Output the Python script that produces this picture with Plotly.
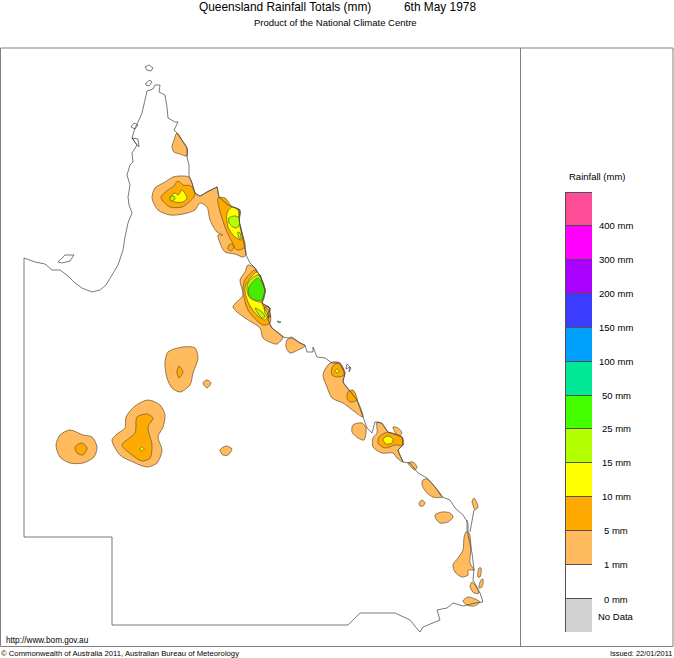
import plotly.graph_objects as go

state_outline = [
    (348, 625), (112, 625), (112, 537), (24, 537), (24, 258),
    (35, 262), (45, 264), (52, 270), (60, 270), (68, 276), (75, 283), (82, 288), (92, 292),
    (100, 290), (106, 285), (112, 275), (118, 265), (123, 250), (125, 237), (128, 223),
    (132, 213), (129, 205), (128, 197), (130, 185), (127, 175), (130, 165), (133, 162), (132, 153),
    (137, 145), (132, 138), (135, 128), (139, 120), (142, 113), (145, 100), (147, 91), (153, 89),
    (155, 85), (160, 85), (159, 92), (165, 95), (167, 107), (168, 118), (175, 122),
    (178, 122), (174, 130), (177, 133), (182, 140), (187, 148), (187, 157), (189, 165),
    (189, 176), (192, 183), (195, 193), (200, 196), (207, 192), (215, 188), (217, 187),
    (219, 197), (228, 205), (240, 210), (239, 220), (242, 233), (245, 247), (246, 255),
    (250, 263), (255, 268), (258, 273), (260, 275), (265, 290), (262, 303), (270, 308),
    (268, 320), (272, 328), (283, 337), (288, 338), (292, 337), (300, 343), (305, 345),
    (307, 352), (313, 352), (313, 347), (317, 357), (325, 358), (332, 363), (340, 363), (345, 373),
    (343, 382), (357, 400), (363, 417), (367, 428), (372, 433), (375, 422), (382, 423),
    (388, 432), (402, 437), (403, 445), (398, 450), (403, 462), (410, 463), (418, 473),
    (427, 478), (435, 487), (442, 497), (450, 500), (455, 508), (463, 515), (468, 523),
    (468, 535), (472, 553), (474, 570), (473, 580), (480, 593), (483, 602), (475, 603),
    (463, 606), (453, 603), (447, 608), (437, 610), (440, 620), (433, 623), (423, 627),
    (420, 632), (418, 630), (410, 620), (395, 613), (380, 613), (360, 613), (348, 625),
]
islands = [
    [(145, 67), (149, 65), (153, 68), (151, 71), (147, 70), (145, 67)],
    [(146, 83), (150, 80), (152, 82), (149, 86), (146, 85), (146, 83)],
    [(58, 262), (65, 255), (74, 255), (70, 261), (62, 263), (58, 262)],
    [(131, 127), (134, 123), (138, 125), (135, 129), (131, 127)],
    [(132, 138), (138, 139), (139, 147), (137, 145), (132, 138)],
    [(277, 321), (281, 322), (279, 323), (277, 321)],
    [(346, 369), (350, 367), (349, 372), (351, 368), (347, 364), (346, 369)],
    [(264, 308), (268, 306), (270, 310), (267, 314), (271, 316), (268, 318), (265, 313), (264, 308)],
    [(474, 510), (470, 532)],
    [(467, 520), (467, 532)],
]
rain_1mm = [
    [(177, 133), (182, 140), (187, 148), (187, 156), (180, 154), (174, 152), (172, 147), (174, 140)],
    [(180, 176), (189, 177), (192, 183), (195, 193), (200, 196), (207, 192), (215, 188), (217, 187),
     (219, 197), (228, 205), (240, 210), (239, 220), (242, 233), (245, 247), (246, 255), (243, 257),
     (235, 254), (225, 252), (220, 243), (218, 235), (223, 235), (217, 232), (210, 220), (207, 207),
     (200, 203), (195, 210), (183, 214), (170, 215), (158, 210), (152, 198), (155, 188), (165, 182),
     (173, 177)],
    [(248, 265), (255, 268), (258, 273), (260, 275), (265, 290), (262, 303), (270, 308), (268, 320),
     (272, 328), (283, 337), (277, 344), (272, 343), (263, 338), (260, 328), (245, 318), (233, 307),
     (243, 295), (240, 280), (245, 272)],
    [(291, 338), (300, 343), (305, 346), (298, 350), (290, 353), (286, 347), (287, 340)],
    [(333, 362), (340, 363), (345, 373), (343, 382), (357, 400), (363, 417), (355, 412), (343, 403),
     (332, 398), (327, 387), (323, 375), (328, 365)],
    [(353, 425), (362, 423), (366, 428), (364, 440), (358, 438), (352, 432)],
    [(377, 422), (382, 424), (388, 432), (402, 437), (403, 445), (398, 450), (403, 462), (397, 458),
     (393, 453), (382, 453), (373, 447), (373, 438), (377, 433)],
    [(393, 427), (398, 428), (402, 433), (398, 436), (395, 432)],
    [(408, 463), (413, 462), (417, 467), (415, 470), (411, 467)],
    [(427, 479), (435, 487), (442, 497), (433, 497), (427, 493), (422, 485), (423, 480)],
    [(419, 503), (422, 500), (425, 503), (423, 506), (420, 506)],
    [(435, 515), (442, 512), (450, 513), (453, 517), (448, 522), (440, 523), (436, 519)],
    [(472, 502), (474, 498), (478, 507), (475, 510), (473, 505)],
    [(466, 532), (469, 533), (471, 547), (470, 563), (474, 570), (468, 570), (468, 575), (462, 577),
     (455, 572), (453, 565), (458, 558), (463, 550), (464, 538)],
    [(479, 568), (481, 568), (480, 577), (478, 577)],
    [(481, 580), (483, 579), (482, 587), (479, 588)],
    [(472, 582), (478, 590), (479, 593), (474, 593), (470, 587)],
    [(468, 597), (475, 599), (480, 602), (474, 606), (467, 605), (463, 601)],
    [(56, 445), (60, 435), (70, 430), (83, 435), (92, 437), (97, 447), (94, 457), (83, 463), (70, 463), (60, 457)],
    [(112, 440), (117, 434), (125, 428), (126, 417), (135, 406), (148, 400), (160, 405), (165, 415),
     (163, 427), (158, 437), (162, 450), (157, 463), (147, 467), (133, 462), (120, 455)],
    [(165, 363), (168, 352), (183, 347), (195, 348), (198, 358), (193, 373), (190, 385), (180, 392),
     (172, 388), (167, 378)],
    [(203, 383), (207, 380), (211, 383), (207, 388)],
    [(220, 450), (226, 446), (232, 449), (228, 455), (223, 455)],
]
rain_5mm = [
    [(178, 181), (183, 185), (191, 186), (195, 195), (188, 203), (182, 207), (170, 207), (162, 200),
     (161, 197), (168, 190), (173, 187)],
    [(218, 198), (225, 198), (232, 207), (240, 212), (239, 222), (242, 233), (245, 247), (237, 250),
     (232, 242), (225, 227)],
    [(229, 245), (232, 244), (234, 248), (231, 251), (228, 249)],
    [(245, 280), (255, 270), (259, 275), (265, 290), (262, 303), (270, 312), (270, 323), (263, 325),
     (248, 310), (243, 290)],
    [(332, 368), (337, 363), (342, 368), (344, 375), (338, 377), (332, 375)],
    [(348, 392), (353, 390), (357, 400), (350, 402), (347, 398)],
    [(385, 433), (392, 433), (402, 437), (403, 445), (395, 445), (385, 448), (378, 443), (379, 437)],
    [(75, 447), (82, 443), (87, 448), (83, 455), (77, 453)],
    [(122, 445), (135, 433), (137, 417), (147, 414), (153, 418), (148, 427), (152, 445), (150, 458),
     (142, 461), (132, 455)],
    [(177, 372), (179, 366), (183, 372), (179, 378)],
]
rain_10mm = [
    [(182, 190), (187, 198), (183, 202), (175, 202), (172, 200), (170, 197), (175, 193), (178, 195)],
    [(227, 213), (232, 207), (238, 210), (239, 222), (242, 240), (235, 237), (228, 227)],
    [(245, 287), (257, 272), (262, 283), (265, 290), (262, 303), (268, 315), (265, 320), (257, 315), (248, 302)],
    [(335, 371), (337, 369), (339, 371), (337, 373)],
    [(383, 439), (388, 436), (393, 439), (392, 443), (386, 444)],
    [(140, 449), (142, 447), (144, 449), (142, 451)],
]
rain_15mm = [
    [(170, 197), (174, 196), (175, 199), (171, 201)],
    [(229, 218), (235, 216), (239, 218), (239, 226), (235, 228), (229, 223)],
    [(238, 232), (240, 233), (241, 239), (239, 238)],
    [(248, 283), (258, 275), (265, 290), (262, 302), (250, 298), (247, 290)],
    [(255, 308), (262, 312), (265, 317), (262, 318)],
]
rain_25mm = [
    [(258, 278), (263, 285), (265, 292), (262, 300), (255, 300), (249, 295), (249, 287)],
]
rain_levels = [rain_1mm, rain_5mm, rain_10mm, rain_15mm, rain_25mm]
rain_colors = ["#FFBB5E", "#FFAA00", "#FFFF00", "#B3FF00", "#44EE00"]

legend_colors = ["#D2D2D2", "#FFFFFF", "#FFBB5E", "#FFAA00", "#FFFF00", "#B3FF00", "#44FF00",
                 "#00E896", "#00A0FF", "#3C3CFF", "#AA00FF", "#FF00FF", "#FF4C96"]
legend_labels = ["No Data", "0 mm", "1 mm", "5 mm", "10 mm", "15 mm", "25 mm", "50 mm",
                 "100 mm", "150 mm", "200 mm", "300 mm", "400 mm"]
legend_label_levels = [0.47, 0.97, 2, 3, 4, 5, 6, 7, 8, 9, 10, 11, 12]


def polygon_xy(shapes):
    xs, ys = [], []
    for shape in shapes:
        xs += [p[0] for p in shape] + [None]
        ys += [p[1] for p in shape] + [None]
    return xs, ys


fig = go.Figure()

for shapes, color in zip(rain_levels, rain_colors):
    xs, ys = polygon_xy([s + s[:1] for s in shapes])
    fig.add_trace(go.Scatter(x=xs, y=ys, mode="lines", fill="toself", fillcolor=color,
                             line=dict(color="#7A6038", width=0.8, shape="spline", smoothing=0.8),
                             hoverinfo="skip"))

xs, ys = polygon_xy([state_outline] + islands)
fig.add_trace(go.Scatter(x=xs, y=ys, mode="lines", line=dict(color="#404040", width=0.7), hoverinfo="skip"))

# colour key, one stacked bar on its own axes
for color in legend_colors:
    fig.add_trace(go.Bar(x=[0], y=[1], width=1, marker=dict(color=color, line=dict(color="#505050", width=1)),
                         xaxis="x2", yaxis="y2", hoverinfo="skip"))

W, H = 674, 658

fig.update_layout(
    width=W,
    height=H,
    margin=dict(l=0, r=0, t=0, b=0),
    paper_bgcolor="white",
    plot_bgcolor="white",
    showlegend=False,
    barmode="stack",
    font=dict(family="Liberation Sans", color="black"),
    xaxis=dict(range=[0, W], visible=False, domain=[0, 1]),
    yaxis=dict(range=[H, 0], visible=False, domain=[0, 1]),
    xaxis2=dict(range=[-0.5, 0.5], visible=False, domain=[565 / W, 592 / W], anchor="y2"),
    yaxis2=dict(range=[0, 13], visible=False, domain=[1 - 632 / H, 1 - 192 / H], anchor="x2"),
)

# frame of the map and key panels
fig.add_shape(type="rect", x0=0.5, x1=673, y0=48, y1=646.5, line=dict(color="#808080", width=1), layer="below")
fig.add_shape(type="line", x0=520.5, x1=520.5, y0=48, y1=646.5, line=dict(color="#808080", width=1), layer="below")


def label(text, x, y, size, anchor="left"):
    fig.add_annotation(text=text, x=x, y=y, xref="x", yref="y", xanchor=anchor, yanchor="middle",
                       showarrow=False, font=dict(size=size), borderpad=0)


label("Queensland Rainfall Totals (mm)", 198, 6.5, 11.9)
label("6th May 1978", 403, 6.5, 11.9)
label("Product of the National Climate Centre", 253, 22, 9.5)
label("Rainfall (mm)", 568, 176, 9.5)
label("http://www.bom.gov.au", 5, 640, 8.2)
label("© Commonwealth of Australia 2011, Australian Bureau of Meteorology", 0, 653, 7.7)
label("Issued: 22/01/2011", 609, 653, 7.4)

for text, level in zip(legend_labels, legend_label_levels):
    fig.add_annotation(text=text, x=616 / W, y=level, xref="paper", yref="y2", xanchor="center",
                       yanchor="middle", showarrow=False, font=dict(size=9.5), borderpad=0)

fig.write_html("out.html", config={"displayModeBar": False}, post_script="document.body.style.margin='0';")
